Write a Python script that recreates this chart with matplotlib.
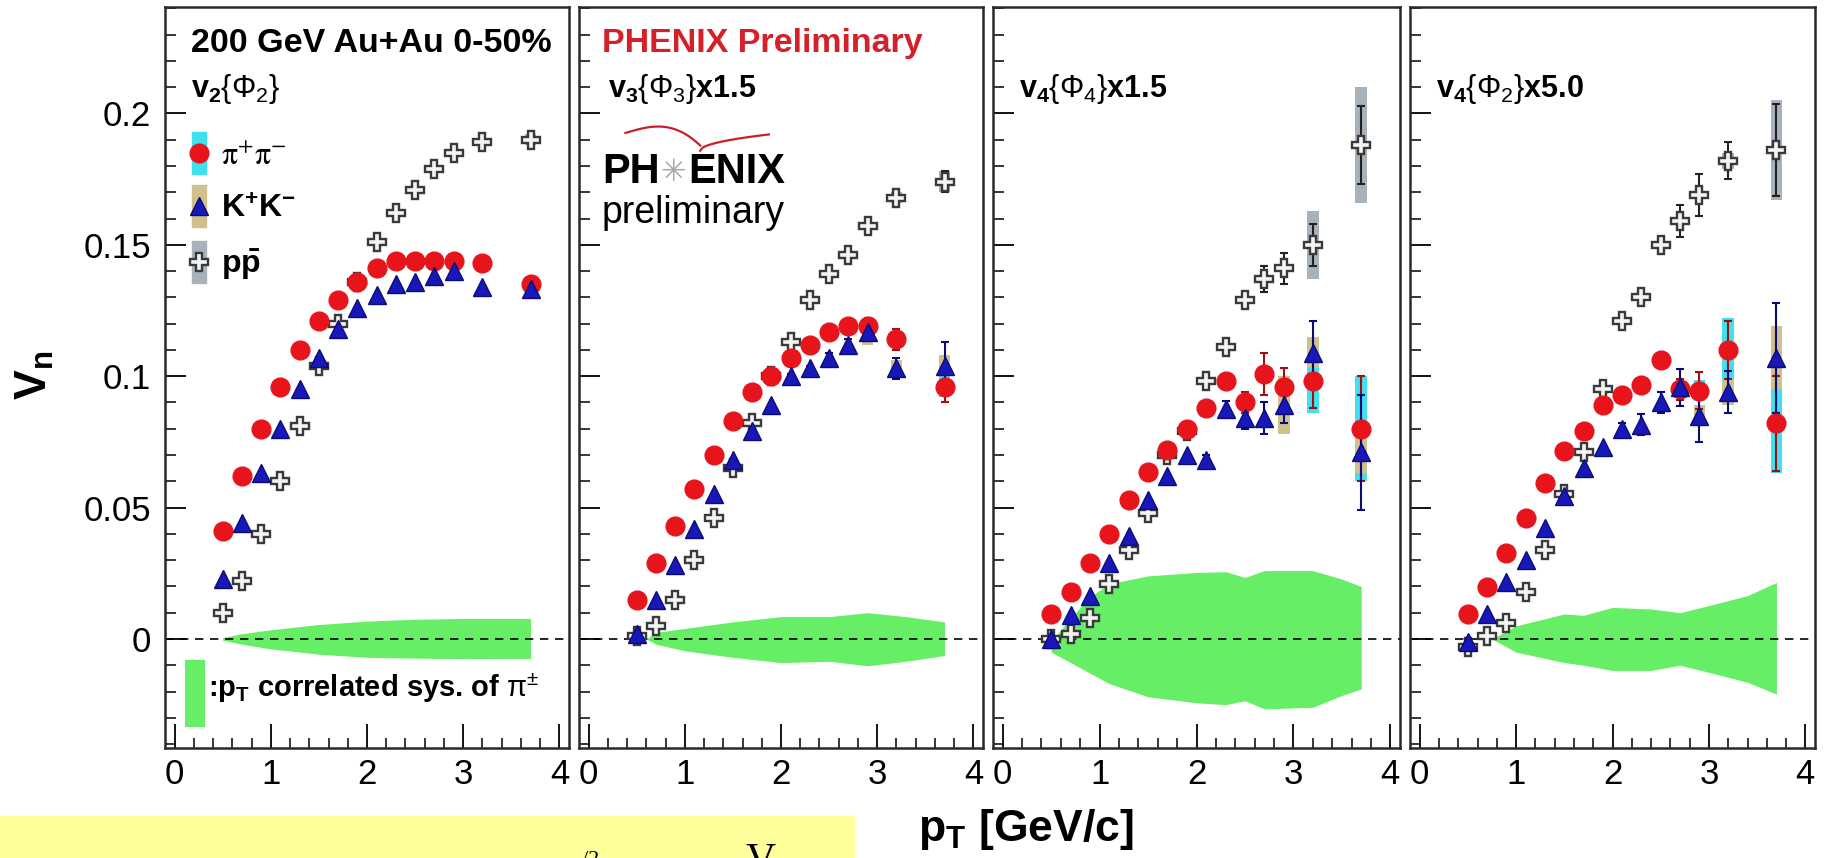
import numpy as np
import matplotlib
matplotlib.use("Agg")
import matplotlib.pyplot as plt
from matplotlib.lines import Line2D
from matplotlib.patches import Rectangle
from matplotlib.ticker import MultipleLocator, FuncFormatter
from matplotlib.legend_handler import HandlerTuple

plt.rcParams['font.family'] = ['Liberation Sans', 'DejaVu Sans']
plt.rcParams['mathtext.fontset'] = 'custom'
plt.rcParams['mathtext.rm'] = 'Liberation Sans'
plt.rcParams['mathtext.it'] = 'Liberation Sans:italic'
plt.rcParams['mathtext.bf'] = 'Liberation Sans:bold'

# pT bins [GeV/c]
pt = np.array([0.5, 0.7, 0.9, 1.1, 1.3, 1.5, 1.7, 1.9, 2.1, 2.3, 2.5, 2.7, 2.9, 3.2, 3.7])

# v2{Phi2}
v2_pi = [0.041, 0.062, 0.080, 0.096, 0.110, 0.121, 0.129, 0.136, 0.141, 0.144, 0.144, 0.144, 0.144, 0.143, 0.135]
v2_k = [0.023, 0.044, 0.063, 0.080, 0.095, 0.107, 0.118, 0.126, 0.131, 0.135, 0.136, 0.138, 0.140, 0.134, 0.133]
v2_p = [0.010, 0.022, 0.040, 0.060, 0.081, 0.104, 0.120, 0.136, 0.151, 0.162, 0.171, 0.179, 0.185, 0.189, 0.190]
v2_pi_err = [0, 0, 0, 0, 0, 0, 0, 0, 0, 0, 0, 0, 0, 0, 0.001]
v2_k_err = [0, 0, 0, 0, 0, 0, 0, 0, 0, 0, 0, 0, 0, 0, 0.001]
v2_p_err = [0, 0, 0, 0, 0, 0, 0, 0, 0, 0, 0, 0, 0, 0, 0.002]
v2_pi_sys = [0, 0, 0, 0, 0, 0, 0, 0, 0, 0, 0, 0, 0, 0, 0]
v2_k_sys = [0, 0, 0, 0, 0, 0, 0, 0, 0, 0, 0, 0, 0, 0, 0]
v2_p_sys = [0, 0, 0, 0, 0, 0, 0, 0, 0, 0, 0, 0, 0, 0, 0.002]
v2_band_pt = [0.5, 0.7, 1.0, 1.5, 2.0, 2.5, 3.0, 3.7]
v2_band_hi = [0.0005, 0.002, 0.0035, 0.0055, 0.0068, 0.0075, 0.0078, 0.0078]
v2_band_lo = [-0.0005, -0.002, -0.0038, -0.0058, -0.0070, -0.0073, -0.0075, -0.0074]

# v3{Phi3} x1.5
v3_pi = [0.015, 0.029, 0.043, 0.057, 0.070, 0.083, 0.094, 0.100, 0.107, 0.112, 0.117, 0.119, 0.119, 0.114, 0.096]
v3_k = [0.002, 0.015, 0.028, 0.042, 0.055, 0.068, 0.079, 0.089, 0.100, 0.103, 0.107, 0.112, 0.117, 0.103, 0.104]
v3_p = [0.001, 0.005, 0.015, 0.030, 0.046, 0.065, 0.082, 0.100, 0.113, 0.129, 0.139, 0.146, 0.157, 0.168, 0.174]
v3_pi_err = [0, 0, 0, 0, 0, 0, 0, 0, 0.001, 0.001, 0.002, 0.002, 0.003, 0.004, 0.006]
v3_k_err = [0, 0, 0, 0, 0, 0, 0, 0, 0.001, 0.001, 0.002, 0.002, 0.003, 0.004, 0.009]
v3_p_err = [0, 0, 0, 0, 0, 0, 0, 0, 0.001, 0.001, 0.002, 0.002, 0.002, 0.003, 0.004]
v3_pi_sys = [0, 0, 0, 0, 0, 0, 0, 0, 0, 0, 0, 0, 0.003, 0.003, 0.004]
v3_k_sys = [0, 0, 0, 0, 0, 0, 0, 0, 0, 0, 0, 0, 0.005, 0.003, 0.004]
v3_p_sys = [0, 0, 0, 0, 0, 0, 0, 0, 0, 0, 0, 0, 0, 0.002, 0.004]
v3_band_pt = [0.6, 0.7, 1.0, 1.5, 2.0, 2.5, 2.9, 3.3, 3.7]
v3_band_hi = [0.0, 0.0025, 0.004, 0.0065, 0.0085, 0.0085, 0.0100, 0.0085, 0.0065]
v3_band_lo = [0.0, -0.0020, -0.0045, -0.0070, -0.0090, -0.0085, -0.0102, -0.0085, -0.0063]

# v4{Phi4} x1.5
v44_pi = [0.0095, 0.018, 0.029, 0.040, 0.053, 0.0635, 0.072, 0.080, 0.088, 0.098, 0.090, 0.101, 0.096, 0.098, 0.080]
v44_k = [0.000, 0.009, 0.0165, 0.029, 0.039, 0.053, 0.062, 0.070, 0.068, 0.0875, 0.084, 0.084, 0.089, 0.109, 0.071]
v44_p = [0.000, 0.002, 0.008, 0.021, 0.034, 0.048, 0.070, 0.079, 0.098, 0.111, 0.129, 0.137, 0.141, 0.150, 0.188]
v44_pi_err = [0, 0, 0, 0, 0, 0, 0, 0, 0.002, 0.003, 0.004, 0.008, 0.007, 0.010, 0.020]
v44_k_err = [0, 0, 0, 0, 0, 0, 0, 0, 0.002, 0.003, 0.004, 0.006, 0.007, 0.012, 0.022]
v44_p_err = [0, 0, 0, 0, 0, 0, 0, 0, 0.002, 0.002, 0.003, 0.005, 0.006, 0.008, 0.015]
v44_pi_sys = [0, 0, 0, 0, 0, 0, 0, 0, 0, 0, 0.003, 0, 0.004, 0.012, 0.020]
v44_k_sys = [0, 0, 0, 0, 0, 0, 0, 0, 0, 0, 0, 0, 0.011, 0.006, 0.008]
v44_p_sys = [0, 0, 0, 0, 0, 0, 0, 0, 0, 0, 0, 0, 0, 0.013, 0.022]
v44_band_pt = [0.5, 0.7, 0.9, 1.1, 1.5, 2.0, 2.3, 2.5, 2.7, 3.2, 3.5, 3.7]
v44_band_hi = [-0.001, 0.008, 0.016, 0.021, 0.024, 0.0253, 0.0256, 0.0234, 0.026, 0.026, 0.0228, 0.020]
v44_band_lo = [-0.005, -0.009, -0.013, -0.017, -0.022, -0.0243, -0.025, -0.0235, -0.0266, -0.026, -0.0215, -0.019]

# v4{Phi2} x5.0
v42_pi = [0.0095, 0.0196, 0.0327, 0.046, 0.0595, 0.0715, 0.079, 0.089, 0.093, 0.0965, 0.106, 0.095, 0.0945, 0.110, 0.082]
v42_k = [-0.001, 0.0095, 0.0215, 0.030, 0.0424, 0.0544, 0.065, 0.073, 0.080, 0.0816, 0.090, 0.0958, 0.085, 0.094, 0.107]
v42_p = [-0.003, 0.001, 0.006, 0.018, 0.034, 0.055, 0.071, 0.095, 0.121, 0.130, 0.150, 0.159, 0.169, 0.182, 0.186]
v42_pi_err = [0, 0, 0, 0, 0, 0, 0, 0, 0.002, 0.002, 0.003, 0.004, 0.007, 0.011, 0.018]
v42_k_err = [0, 0, 0, 0, 0, 0, 0, 0, 0.002, 0.004, 0.004, 0.007, 0.010, 0.008, 0.021]
v42_p_err = [0, 0, 0, 0, 0, 0, 0, 0, 0.002, 0.002, 0.003, 0.006, 0.008, 0.007, 0.0175]
v42_pi_sys = [0, 0, 0, 0, 0, 0, 0, 0, 0, 0, 0, 0, 0.004, 0.012, 0.019]
v42_k_sys = [0, 0, 0, 0, 0, 0, 0, 0, 0, 0, 0, 0, 0.004, 0.005, 0.012]
v42_p_sys = [0, 0, 0, 0, 0, 0, 0, 0, 0, 0, 0, 0, 0, 0.003, 0.019]
v42_band_pt = [0.75, 1.0, 1.5, 1.7, 2.0, 2.4, 2.7, 3.0, 3.4, 3.7]
v42_band_hi = [0.0, 0.005, 0.0095, 0.009, 0.012, 0.0114, 0.010, 0.0127, 0.0165, 0.0215]
v42_band_lo = [0.0, -0.005, -0.009, -0.010, -0.012, -0.012, -0.010, -0.0127, -0.0165, -0.021]

panel_titles = [r'$\mathbf{v}_{\mathbf{2}}\{\Phi_{2}\}$',
                r'$\mathbf{v}_{\mathbf{3}}\{\Phi_{3}\}\mathbf{x1.5}$',
                r'$\mathbf{v}_{\mathbf{4}}\{\Phi_{4}\}\mathbf{x1.5}$',
                r'$\mathbf{v}_{\mathbf{4}}\{\Phi_{2}\}\mathbf{x5.0}$']
title_x = [0.064, 0.072, 0.064, 0.064]

RED = '#e8141c'
DKRED = '#a01010'
BLUE = '#1818b8'
DKBLUE = '#0a0a78'
GREEN = '#66ee66'
CYAN = '#40e0ee'
TAN = '#cfc08c'
GRAY = '#a9b1ba'
W, H = 1825.0, 858.0


def errbars(ax, v, e, col):
    v = np.asarray(v)
    e = np.asarray(e)
    m = e > 0
    ax.errorbar(pt[m], v[m], yerr=e[m], fmt='none', ecolor=col, elinewidth=1.5,
                capsize=3, capthick=1.5, zorder=6)


def sysboxes(ax, v, s, col):
    v = np.asarray(v)
    s = np.asarray(s)
    m = s > 0
    ax.bar(pt[m], 2 * s[m], bottom=v[m] - s[m], width=0.12, color=col, lw=0, zorder=2)


def draw_panel(ax, pi, k, p, pi_e, k_e, p_e, pi_s, k_s, p_s, bx, bhi, blo):
    ax.fill_between(bx, blo, bhi, color=GREEN, lw=0, zorder=1)
    ax.axhline(0, color='black', ls=(0, (5, 4)), lw=1.2, zorder=1.5)
    sysboxes(ax, pi, pi_s, CYAN)
    sysboxes(ax, k, k_s, TAN)
    sysboxes(ax, p, p_s, GRAY)
    errbars(ax, p, p_e, '#222222')
    errbars(ax, pi, pi_e, DKRED)
    errbars(ax, k, k_e, DKBLUE)
    ax.plot(pt, p, 'P', ms=13.5, mfc='#f4f4f4', mec='#3a3a3a', mew=1.7, ls='none', zorder=7)
    ax.plot(pt, pi, 'o', ms=13.5, mfc=RED, mec=RED, ls='none', zorder=8)
    ax.plot(pt, k, '^', ms=12.5, mfc=BLUE, mec=DKBLUE, mew=1.0, ls='none', zorder=9)


fig = plt.figure(figsize=(W / 100, H / 100), dpi=100)

# yellow strip of the slide below the figure (its text is cut at the bottom edge)
fig.patches.append(Rectangle((0, 0), 854 / W, (H - 816) / H, transform=fig.transFigure,
                             color='#ffff9c', zorder=0))
fig.text(582 / W, (H - 851) / H, "/2", family='Liberation Serif', fontsize=16, va='top')
fig.text(745 / W, (H - 842) / H, "V", family='Liberation Serif', fontsize=30, va='top')

lefts = [165, 579, 993, 1410]
widths = [404, 404, 407, 405]
top_px, bot_px = 7, 748

data = [
    (v2_pi, v2_k, v2_p, v2_pi_err, v2_k_err, v2_p_err, v2_pi_sys, v2_k_sys, v2_p_sys,
     v2_band_pt, v2_band_hi, v2_band_lo),
    (v3_pi, v3_k, v3_p, v3_pi_err, v3_k_err, v3_p_err, v3_pi_sys, v3_k_sys, v3_p_sys,
     v3_band_pt, v3_band_hi, v3_band_lo),
    (v44_pi, v44_k, v44_p, v44_pi_err, v44_k_err, v44_p_err, v44_pi_sys, v44_k_sys, v44_p_sys,
     v44_band_pt, v44_band_hi, v44_band_lo),
    (v42_pi, v42_k, v42_p, v42_pi_err, v42_k_err, v42_p_err, v42_pi_sys, v42_k_sys, v42_p_sys,
     v42_band_pt, v42_band_hi, v42_band_lo),
]

axes = []
for i in range(4):
    ax = fig.add_axes([lefts[i] / W, (H - bot_px) / H, widths[i] / W, (bot_px - top_px) / H])
    draw_panel(ax, *data[i])
    ax.set_xlim(-0.1, 4.1)
    ax.set_ylim(-0.0415, 0.2405)
    ax.xaxis.set_major_locator(MultipleLocator(1))
    ax.xaxis.set_minor_locator(MultipleLocator(0.2))
    ax.yaxis.set_major_locator(MultipleLocator(0.05))
    ax.yaxis.set_minor_locator(MultipleLocator(0.01))
    ax.yaxis.set_major_formatter(FuncFormatter(lambda v, p: '%g' % round(v, 3)))
    ax.tick_params(axis='x', which='major', direction='in', length=17, width=1.3,
                   labelsize=25, pad=7, top=False)
    ax.tick_params(axis='x', which='minor', direction='in', length=7, width=1.1, top=False)
    ax.tick_params(axis='y', which='major', direction='in', length=15, width=1.3,
                   labelsize=25, pad=10, right=False)
    ax.tick_params(axis='y', which='minor', direction='in', length=8, width=1.1, right=False)
    if i > 0:
        ax.tick_params(axis='y', labelleft=False)
    for s in ax.spines.values():
        s.set_linewidth(1.8)
        s.set_color('#2a2a2a')
    ax.text(title_x[i], 0.889, panel_titles[i], transform=ax.transAxes, fontsize=22,
            va='center', ha='left', zorder=10)
    axes.append(ax)

# panel 1 labels and legend
ax = axes[0]
ax.text(0.064, 0.951, "200 GeV Au+Au 0-50%", transform=ax.transAxes, fontsize=24.5,
        fontweight='bold', va='center', ha='left')
verts = [(-0.35, -1), (0.35, -1), (0.35, 1), (-0.35, 1), (-0.35, -1)]
h_pi = (Line2D([], [], marker=verts, ms=30, color=CYAN, ls='none'),
        Line2D([], [], marker='o', ms=13.5, mfc=RED, mec=RED, ls='none'))
h_k = (Line2D([], [], marker=verts, ms=30, color=TAN, ls='none'),
       Line2D([], [], marker='^', ms=12.5, mfc=BLUE, mec=DKBLUE, ls='none'))
h_p = (Line2D([], [], marker=verts, ms=30, color=GRAY, ls='none'),
       Line2D([], [], marker='P', ms=13.5, mfc='#f4f4f4', mec='#3a3a3a', mew=1.7, ls='none'))
leg = ax.legend([h_pi, h_k, h_p],
                [r'$\mathrm{\pi^{+}\pi^{-}}$', r'$\mathbf{K^{+}K^{-}}$', r'$\mathbf{p\bar{p}}$'],
                handler_map={tuple: HandlerTuple(ndivide=1)}, loc='upper left',
                bbox_to_anchor=(0.012, 0.84), frameon=False, fontsize=23,
                handlelength=0.8, handletextpad=0.3, labelspacing=0.72, borderpad=0)
leg.get_texts()[0].set_math_fontfamily('stix')
leg.get_texts()[0].set_fontsize(23)

ax.add_patch(Rectangle((0.05, 0.028), 0.049, 0.091, transform=ax.transAxes,
                       color=GREEN, lw=0))
ax.text(0.107, 0.081, r":p$_\mathbf{T}$ correlated sys. of $\mathrm{\pi}^{\pm}$",
        transform=ax.transAxes, fontsize=21, fontweight='bold', va='center', ha='left')

# panel 2: preliminary labels and logo
ax = axes[1]
ax.text(0.058, 0.951, "PHENIX Preliminary", transform=ax.transAxes, fontsize=24.5,
        fontweight='bold', color='#d42028', va='center', ha='left')
ax.text(0.057, 0.777, "PH", transform=ax.transAxes, fontsize=30, fontweight='bold',
        va='center', ha='left')
ax.text(0.232, 0.777, "\u2733", transform=ax.transAxes, fontsize=22, color='#a8a8a8',
        family='DejaVu Sans', va='center', ha='center')
ax.text(0.27, 0.777, "ENIX", transform=ax.transAxes, fontsize=30, fontweight='bold',
        va='center', ha='left')
ax.text(0.057, 0.722, "preliminary", transform=ax.transAxes, fontsize=27,
        va='center', ha='left')
t = np.linspace(0, 1, 30)
ax.plot(0.115 + 0.185 * t, 0.83 + 0.012 * np.sin(np.pi * t * 0.8) - 0.024 * t ** 3,
        transform=ax.transAxes, color='#c8202a', lw=1.6)
ax.plot(0.30 + 0.17 * t, 0.806 + 0.022 * np.sqrt(t), transform=ax.transAxes,
        color='#c8202a', lw=1.6)

fig.text(0.019, 0.563, r'$\mathbf{V_{n}}$', rotation=90, fontsize=32, va='center', ha='center')
fig.text(1026 / W, (H - 830) / H, r'$\mathbf{p_{T}}$ [GeV/c]', fontsize=32,
         fontweight='bold', va='center', ha='center')

fig.savefig('out.png', dpi=100)
